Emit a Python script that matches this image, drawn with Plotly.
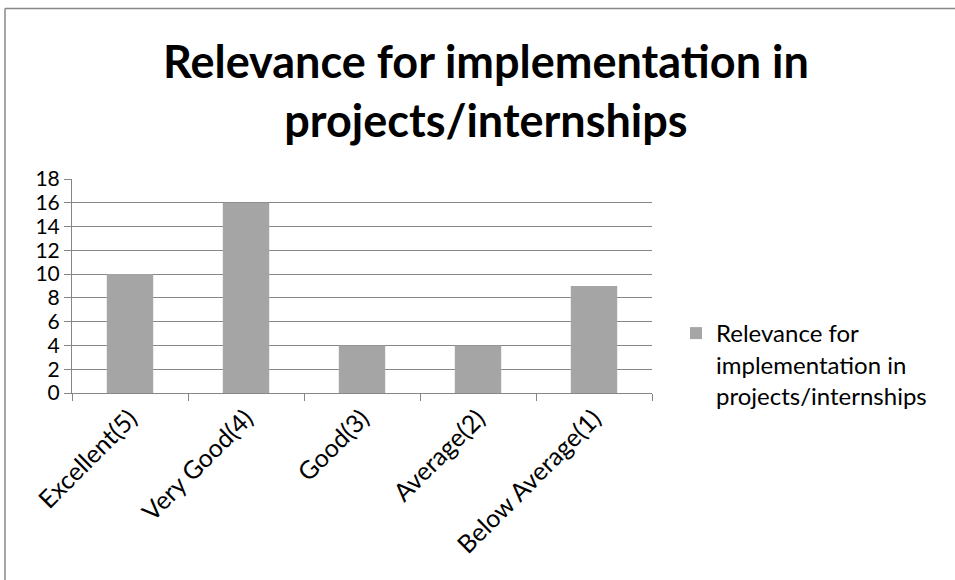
import plotly.graph_objects as go

categories = ["Excellent(5)", "Very Good(4)", "Good(3)", "Average(2)", "Below Average(1)"]
values = [10, 16, 4, 4, 9]
series_name = "Relevance for implementation in projects/internships"
legend_label = "Relevance for<br>implementation in<br>projects/internships"
title_text = "Relevance for implementation in<br>projects/internships"
y_ticks = list(range(0, 19, 2))

W, H = 955, 580
L, R, T, B = 72, 652, 179, 393

def px(x):
    return (x - L) / (R - L)

def py(y):
    return (B - y) / (B - T)

fig = go.Figure()
fig.add_trace(go.Bar(
    x=categories, y=values, name=legend_label,
    marker=dict(color="#A5A5A5", line=dict(width=0)),
    showlegend=True,
))

FONT = "Lato"
fig.update_layout(
    width=W, height=H,
    margin=dict(l=L, r=W - R, t=T, b=H - B, autoexpand=False),
    paper_bgcolor="white", plot_bgcolor="white",
    bargap=0.6,
    font=dict(family=FONT, color="#000000", size=22),
    showlegend=True,
    legend=dict(x=px(676), y=py(311), xanchor="left", yanchor="top", valign="top",
                font=dict(size=24, family=FONT, color="#000"),
                bgcolor="rgba(0,0,0,0)", itemwidth=30, tracegroupgap=0),
    xaxis=dict(
        showgrid=False, showline=True, linecolor="#868686", linewidth=1,
        ticks="outside", tickson="boundaries", ticklen=7, tickcolor="#868686",
        tickangle=-45, tickfont=dict(size=25, family=FONT, color="#000"),
        range=[-0.5, 4.5],
    ),
    yaxis=dict(
        range=[0, 18], tickvals=y_ticks, showgrid=True, gridcolor="#868686", gridwidth=1,
        showline=True, linecolor="#868686", linewidth=1,
        ticks="outside", ticklen=7, tickcolor="#868686",
        tickfont=dict(size=21, family=FONT, color="#000"), zeroline=False,
    ),
    annotations=[dict(
        text="<b>" + title_text + "</b>", x=px(486), y=py(91), xref="paper", yref="paper",
        xanchor="center", yanchor="middle", showarrow=False,
        font=dict(size=45, family=FONT, color="#000"),
    )],
    shapes=[
        dict(type="line", xref="paper", yref="paper", x0=px(5), x1=px(960), y0=py(8.5), y1=py(8.5),
             line=dict(color="#888888", width=1.5)),
        dict(type="line", xref="paper", yref="paper", x0=px(5), x1=px(5), y0=py(8.5), y1=py(585),
             line=dict(color="#888888", width=1.5)),
    ],
)

fig.write_html("out.html", config={"displayModeBar": False},
               post_script="document.body.style.margin='0';document.body.style.padding='0';")
